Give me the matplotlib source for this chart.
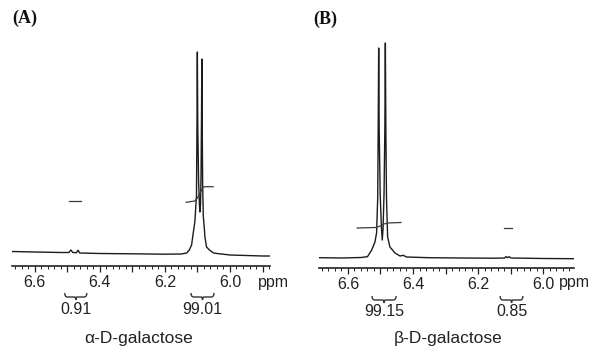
import matplotlib
matplotlib.use("Agg")
import matplotlib.pyplot as plt
from matplotlib.path import Path
from matplotlib.patches import PathPatch
from matplotlib.transforms import blended_transform_factory
import numpy as np

plt.rcParams['font.family'] = ['Liberation Sans', 'DejaVu Sans']

W, H = 591, 346

# ---------------- data ----------------
# Panel A : alpha-D-galactose (traced spectrum, ppm vs. intensity)
a_ppm = [6.67, 6.60, 6.52, 6.495, 6.489, 6.483, 6.472, 6.467, 6.462, 6.40, 6.30,
         6.20, 6.15, 6.133, 6.125, 6.118, 6.113, 6.108, 6.103, 6.1015, 6.1003,
         6.099, 6.0965, 6.094, 6.0923, 6.0905, 6.089, 6.0875, 6.0865, 6.0855,
         6.084, 6.082, 6.079, 6.077, 6.072, 6.0615, 6.05, 6.04, 6.00, 5.95,
         5.90, 5.877]
a_int = [14.5, 14.0, 13.5, 13.5, 16.0, 13.5, 13.3, 15.8, 13.0, 12.5, 12.2,
         11.8, 12.0, 13.0, 16.0, 21.0, 33.0, 44.0, 70.0, 140.0, 214.0,
         140.0, 85.0, 62.0, 54.0, 62.0, 90.0, 150.0, 207.0, 150.0,
         80.0, 50.0, 38.0, 29.0, 19.0, 15.5, 13.0, 12.5, 11.0, 10.5,
         10.0, 10.0]
a_integ_ppm = [6.135, 6.108, 6.100, 6.092, 6.085, 6.079, 6.052]
a_integ_val = [63.7, 65.0, 68.0, 73.0, 77.5, 79.3, 79.3]
a_minor_integ_ppm = [6.495, 6.458]
a_minor_integ_val = [65.0, 65.0]
a_regions = [(6.508, 6.440), (6.120, 6.049)]
a_region_labels = ["0.91", "99.01"]

# Panel B : beta-D-galactose
b_ppm = [6.689, 6.62, 6.56, 6.54, 6.527, 6.517, 6.512, 6.5085, 6.507, 6.5055,
         6.504, 6.501, 6.497, 6.4945, 6.492, 6.489, 6.4865, 6.485, 6.4835,
         6.4815, 6.478, 6.471, 6.455, 6.44, 6.43, 6.42, 6.35, 6.25, 6.15,
         6.118, 6.114, 6.109, 6.104, 6.099, 6.00, 5.905]
b_int = [10.3, 10.0, 10.5, 11.3, 18.0, 26.0, 35.0, 70.0, 140.0, 220.0,
         140.0, 75.0, 40.0, 28.0, 40.0, 75.0, 140.0, 225.0, 140.0,
         70.0, 31.0, 21.0, 15.0, 12.0, 12.7, 11.0, 10.3, 10.0, 9.8,
         10.0, 11.5, 10.3, 11.3, 10.0, 9.5, 9.3]
b_integ_ppm = [6.572, 6.515, 6.500, 6.490, 6.476, 6.437]
b_integ_val = [40.0, 40.5, 42.0, 44.0, 45.0, 45.5]
b_minor_integ_ppm = [6.120, 6.095]
b_minor_integ_val = [40.0, 40.0]
b_regions = [(6.526, 6.452), (6.132, 6.062)]
b_region_labels = ["99.15", "0.85"]

tick_vals = [6.6, 6.4, 6.2, 6.0]
tick_labels = ["6.6", "6.4", "6.2", "6.0"]

# ---------------- figure ----------------
fig = plt.figure(figsize=(W / 100, H / 100), dpi=100)
fig.patch.set_facecolor('white')

TXT = '#222222'


def fy(pix):
    return 1 - pix / H


def fx(pix):
    return pix / W


def make_axes(left, right, axis_y, top, xlim):
    ax = fig.add_axes([fx(left), fy(axis_y), fx(right) - fx(left), (axis_y - top) / H])
    ax.set_xlim(*xlim)
    ax.set_ylim(0, axis_y - top)
    for s in ('top', 'left', 'right'):
        ax.spines[s].set_visible(False)
    ax.spines['bottom'].set_linewidth(1.2)
    ax.spines['bottom'].set_color('#222222')
    ax.set_yticks([])
    major = np.round(np.arange(6.7, 5.85, -0.1), 2)
    major = [m for m in major if min(xlim) <= m <= max(xlim)]
    ax.set_xticks(major)
    labs = []
    for m in major:
        lab = ""
        for t, tl in zip(tick_vals, tick_labels):
            if abs(m - t) < 1e-6:
                lab = tl
        labs.append(lab)
    ax.set_xticklabels(labs)
    minor = np.round(np.arange(6.70, 5.85, -0.02), 2)
    minor = [m for m in minor if min(xlim) <= m <= max(xlim)]
    ax.set_xticks(minor, minor=True)
    ax.tick_params(axis='x', which='major', direction='out', length=4, width=0.9,
                   colors='#222222', labelsize=11.5, pad=2.5, labelcolor=TXT)
    ax.tick_params(axis='x', which='minor', direction='out', length=2.5, width=0.7,
                   colors='#222222')
    ax.patch.set_alpha(0)
    return ax


def brace(ax, x0, x1, ytop, yh, ytick):
    tr = blended_transform_factory(ax.transData, fig.transFigure)
    c = (x0 + x1) / 2
    d = abs(x0 - x1) * 0.12
    sgn = 1 if x0 > x1 else -1
    verts = [(x0, fy(ytop)), (x0, fy(yh)), (x0 - sgn * d, fy(yh)),
             (c + sgn * d * 0.5, fy(yh)), (c, fy(yh)), (c, fy(ytick)),
             (c, fy(yh)), (c - sgn * d * 0.5, fy(yh)),
             (x1 + sgn * d, fy(yh)), (x1, fy(yh)), (x1, fy(ytop))]
    codes = [Path.MOVETO, Path.CURVE3, Path.CURVE3,
             Path.LINETO, Path.CURVE3, Path.CURVE3,
             Path.CURVE3, Path.CURVE3,
             Path.LINETO, Path.CURVE3, Path.CURVE3]
    p = PathPatch(Path(verts, codes), transform=tr, fill=False,
                  lw=1.0, edgecolor='#333333')
    ax.add_artist(p)
    p.set_clip_on(False)
    return tr


spec_kw = dict(color='#1c1c1c', lw=1.0, solid_joinstyle='round')
integ_kw = dict(color='#3a3a3a', lw=0.9)

# Panel A
axA = make_axes(12, 270, 266, 40, (6.67, 5.877))
axA.plot(a_ppm, a_int, **spec_kw)
axA.plot(a_integ_ppm, a_integ_val, **integ_kw)
axA.plot(a_minor_integ_ppm, a_minor_integ_val, **integ_kw)
for (r0, r1), lab in zip(a_regions, a_region_labels):
    tr = brace(axA, r0, r1, 293, 297, 300)
    axA.text((r0 + r1) / 2, fy(310), lab, transform=tr, ha='center', va='center',
             fontsize=11.5, color=TXT)
fig.text(fx(258), fy(282), "ppm", ha='left', va='center', fontsize=11.5, color=TXT)
fig.text(fx(139), fy(338), "α-D-galactose", ha='center', va='center', fontsize=12.5,
         color=TXT)
fig.text(fx(12), fy(18), "(A)", ha='left', va='center', fontsize=13, fontweight='bold',
         family='Liberation Serif', color='#111111')

# Panel B
axB = make_axes(319, 574, 268, 40, (6.689, 5.905))
axB.plot(b_ppm, b_int, **spec_kw)
axB.plot(b_integ_ppm, b_integ_val, **integ_kw)
axB.plot(b_minor_integ_ppm, b_minor_integ_val, **integ_kw)
for (r0, r1), lab in zip(b_regions, b_region_labels):
    tr = brace(axB, r0, r1, 296, 300, 303)
    axB.text((r0 + r1) / 2, fy(312), lab, transform=tr, ha='center', va='center',
             fontsize=11.5, color=TXT)
fig.text(fx(559), fy(283), "ppm", ha='left', va='center', fontsize=11.5, color=TXT)
fig.text(fx(448), fy(338), "β-D-galactose", ha='center', va='center', fontsize=12.5,
         color=TXT)
fig.text(fx(313), fy(19), "(B)", ha='left', va='center', fontsize=13, fontweight='bold',
         family='Liberation Serif', color='#111111')

fig.savefig("out.png", dpi=100, facecolor='white')
